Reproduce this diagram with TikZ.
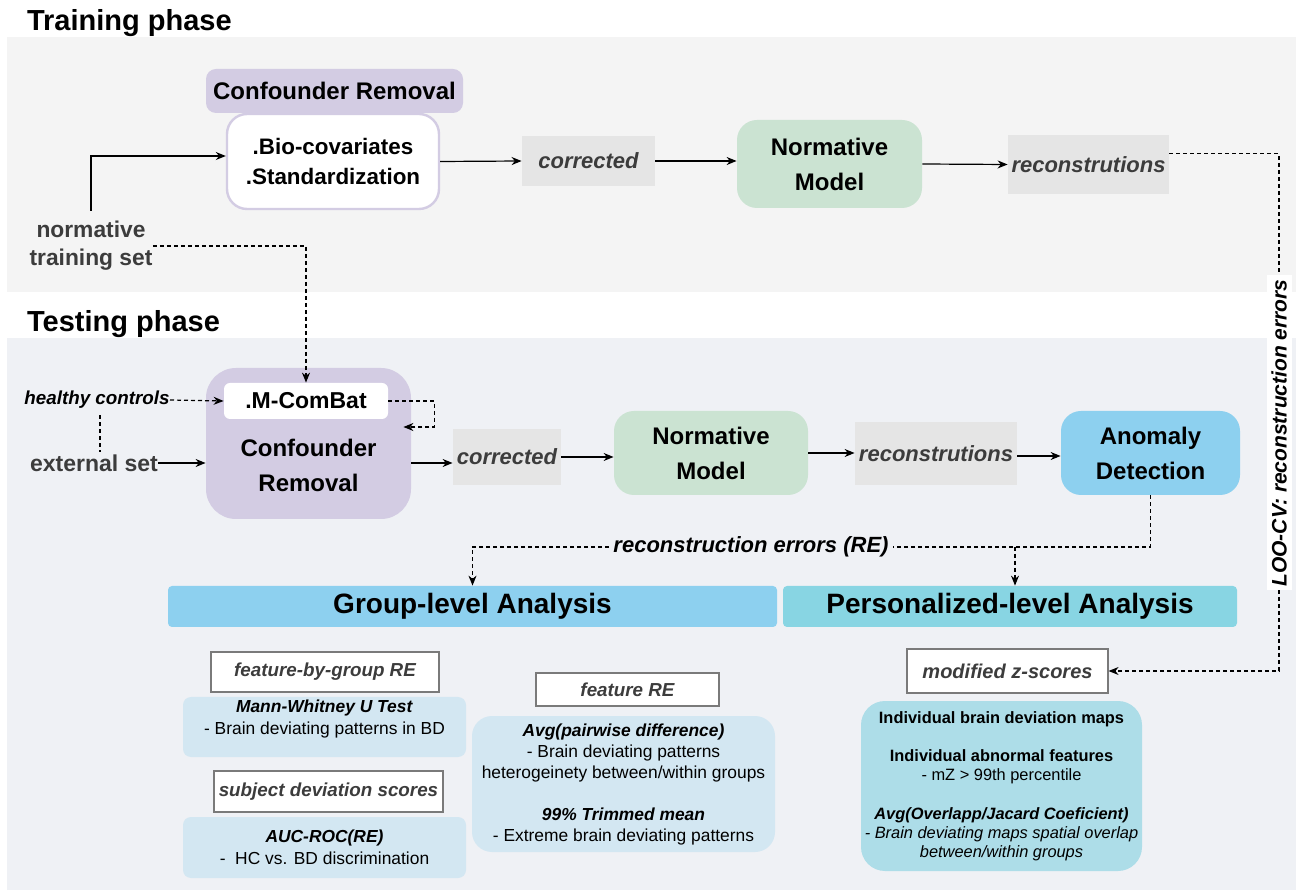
\documentclass[tikz,border=0pt]{standalone}
\usepackage{fontspec}
\setmainfont{Liberation Sans}
\usetikzlibrary{arrows.meta,positioning}
\definecolor{trainbg}{HTML}{F4F4F4}
\definecolor{testbg}{HTML}{EFF1F5}
\definecolor{lavender}{HTML}{D3CCE3}
\definecolor{mint}{HTML}{CBE3D2}
\definecolor{boxgray}{HTML}{E5E5E5}
\definecolor{sky}{HTML}{8DD0EF}
\definecolor{cyanhead}{HTML}{88D5E3}
\definecolor{paleblue}{HTML}{D3E7F2}
\definecolor{palecyan}{HTML}{ADDDE8}
\definecolor{darktext}{HTML}{3C3C3C}
\definecolor{framegray}{HTML}{7A7A7A}
\def\fsz#1#2{\fontsize{#1pt}{#2pt}\selectfont}
\tikzset{sz/.style 2 args={minimum width=#1*0.5pt, minimum height=#2*0.5pt},
    basebox/.style={inner sep=0pt, align=center},
    stage/.style={basebox, rounded corners=10pt, font=\fsz{12}{17.5}\bfseries},
    datum/.style={basebox, fill=boxgray, text=darktext, font=\fsz{11}{13}\bfseries\itshape},
    tag/.style={basebox, fill=white, draw=framegray, line width=0.6pt, text=darktext,
        font=\fsz{9.4}{11}\bfseries\itshape},
    result/.style={basebox, fill=paleblue, rounded corners=4pt, font=\fsz{8.7}{11}},
    flow/.style={-{Stealth[length=5pt,width=4pt]}, line width=0.6pt},
    dline/.style={line width=0.6pt, dash pattern=on 2pt off 1.5pt},
    dflow/.style={flow, dash pattern=on 2pt off 1.5pt}}

\begin{document}
\begin{tikzpicture}[x=0.5pt,y=-0.5pt]
    \useasboundingbox (0,0) rectangle (1296,892);
    % panels
    \fill[trainbg] (7,37) rectangle (1296,292);
    \fill[testbg] (7,338) rectangle (1296,890);
    \node[anchor=base west, font=\fsz{14.5}{17}\bfseries] (traintitle) at (20,31) {Training phase};
    \node[anchor=base west, font=\fsz{14.5}{17}\bfseries] (testtitle) at (20,332) {Testing phase};

    % training phase
    \node[stage, fill=lavender, rounded corners=5pt, sz={257}{44}] (crhead) at (334.5,91) {Confounder Removal};
    \node[stage, fill=white, draw=lavender, line width=1.2pt, font=\fsz{11.2}{15}\bfseries,
          sz={212}{95}] (crbox) at (333,161.5) {.Bio-covariates\\.Standardization};
    \node[basebox, text=darktext, font=\fsz{11.4}{14}\bfseries] (normset) at (91,246) {normative\\training set};
    \node[datum, sz={133}{50}] (corr1) at (588.5,161) {corrected};
    \node[stage, fill=mint, sz={185}{88}] (nm1) at (829.5,164) {Normative\\Model};
    \node[datum, sz={161}{59}] (rec1) at (1088.5,164.5) {reconstrutions};

    % testing phase
    \node[stage, fill=lavender, rounded corners=15pt, sz={205}{151}] (cr2) at (308.5,443.5) {};
    \node[basebox, font=\fsz{12}{17.5}\bfseries] (cr2text) at (308.5,465.5) {Confounder\\Removal};
    \node[basebox, fill=white, rounded corners=3pt, font=\fsz{11.5}{13}\bfseries, sz={164}{36}] (combat) at (306,401) {.M-ComBat};
    \node[basebox, font=\fsz{9.4}{11}\bfseries\itshape] (healthy) at (97,400) {healthy controls};
    \node[basebox, text=darktext, font=\fsz{11.5}{13}\bfseries] (extset) at (94,463) {external set};
    \node[datum, sz={108}{56}] (corr2) at (507,457) {corrected};
    \node[stage, fill=mint, sz={194}{84}] (nm2) at (711,453) {Normative\\Model};
    \node[datum, sz={162}{63}] (rec2) at (936,453.5) {reconstrutions};
    \node[stage, fill=sky, sz={179}{84}] (anomaly) at (1150.5,453) {Anomaly\\Detection};
    \node[basebox, inner xsep=2pt, font=\fsz{11}{13}\bfseries\itshape] (retext) at (751,547) {reconstruction errors (RE)};

    % analysis headers
    \node[basebox, fill=sky, rounded corners=2pt, font=\fsz{14}{16}\bfseries, sz={609}{41}] (grouphead) at (472.5,606.5) {Group-level Analysis};
    \node[basebox, fill=cyanhead, rounded corners=2pt, font=\fsz{14}{16}\bfseries, sz={454}{41}] (personhead) at (1010,606.5) {Personalized-level Analysis};

    % group-level results
    \node[tag, sz={228}{40}] (fbg) at (325,672) {feature-by-group RE};
    \node[result, sz={283}{60}] (mwu) at (324.5,727) {};
    \node[basebox, font=\fsz{8.7}{11}] (mwutext) at (324.5,719) {\textbf{\textit{Mann-Whitney U Test}}\\- Brain deviating patterns in BD};
    \node[tag, sz={229}{41}] (sds) at (328.5,791.5) {subject deviation scores};
    \node[result, sz={283}{61}] (auc) at (324.5,847.5) {\textbf{\textit{AUC-ROC(RE)}}\\-\ \ HC vs. BD discrimination};
    \node[tag, sz={183}{33}] (fre) at (627.5,689.5) {feature RE};
    \node[result, rounded corners=10pt, font=\fsz{8.7}{10.5}, sz={303}{136}] (featre) at (623.5,784)
        {\textbf{\textit{Avg(pairwise difference)}}\\- Brain deviating patterns\\heterogeinety between/within groups\\[10.5pt]
         \textbf{\textit{99\% Trimmed mean}}\\- Extreme brain deviating patterns};

    % personalized-level results
    \node[tag, font=\fsz{10}{12}\bfseries\itshape, sz={201}{44}] (mzs) at (1007.5,671) {modified z-scores};
    \node[result, fill=palecyan, rounded corners=12pt, font=\fsz{8.2}{9.6}, sz={281}{170}] (devmaps) at (1001.5,786)
        {\textbf{Individual brain deviation maps}\\[9.6pt]\textbf{Individual abnormal features}\\- mZ > 99th percentile\\[9.6pt]
         \textbf{\textit{Avg(Overlapp/Jacard Coeficient)}}\\\textit{- Brain deviating maps spatial overlap}\\\textit{between/within groups}};

    % connectors
    \draw[flow] ([yshift=5pt]normset.north) |- ([yshift=2.75pt]crbox.west);
    \draw[dflow] (normset.east) -| (combat.north);
    \draw[flow] (crbox.east) -- (corr1.west);
    \draw[flow] (corr1.east) -- (corr1.east -| nm1.west);
    \draw[flow] (nm1.east) -- (rec1.west);
    \coordinate (looturn) at (1279,671);
    \draw[dflow] ([yshift=-9.5pt]rec1.north east) -| (looturn) -- (mzs.east);
    \node[basebox, fill=white, rotate=90, font=\fsz{10.5}{12}\bfseries\itshape, sz={315}{25}] (lootext) at (1279,433) {LOO-CV: reconstruction errors};
    \draw[dflow] (healthy.east) -- (combat.west);
    \draw[dline] ([xshift=1.5pt,yshift=-3pt]healthy.south) -- ([xshift=1.5pt,yshift=1pt]healthy.south |- extset.north);
    \draw[flow] (extset.east) -- (extset.east -| cr2.west);
    \draw[dflow] (combat.east) -- ++(23pt,0) |- ([xshift=-4pt,yshift=8.25pt]cr2.east);
    \draw[flow] (cr2.east |- extset.east) -- (corr2.west |- extset.east);
    \draw[flow] (corr2.east) -- (corr2.east -| nm2.west);
    \draw[flow] (nm2.east) -- (nm2.east -| rec2.west);
    \draw[flow] ([yshift=-1.25pt]rec2.east) -- ([yshift=-1.25pt]rec2.east -| anomaly.west);
    \draw[dline] (anomaly.south) |- (retext.east);
    \draw[dflow] (retext.west) -| (grouphead.north);
    \draw[dflow] ([xshift=2.5pt]personhead.north |- retext.east) -- ([xshift=2.5pt]personhead.north);
\end{tikzpicture}
\end{document}
